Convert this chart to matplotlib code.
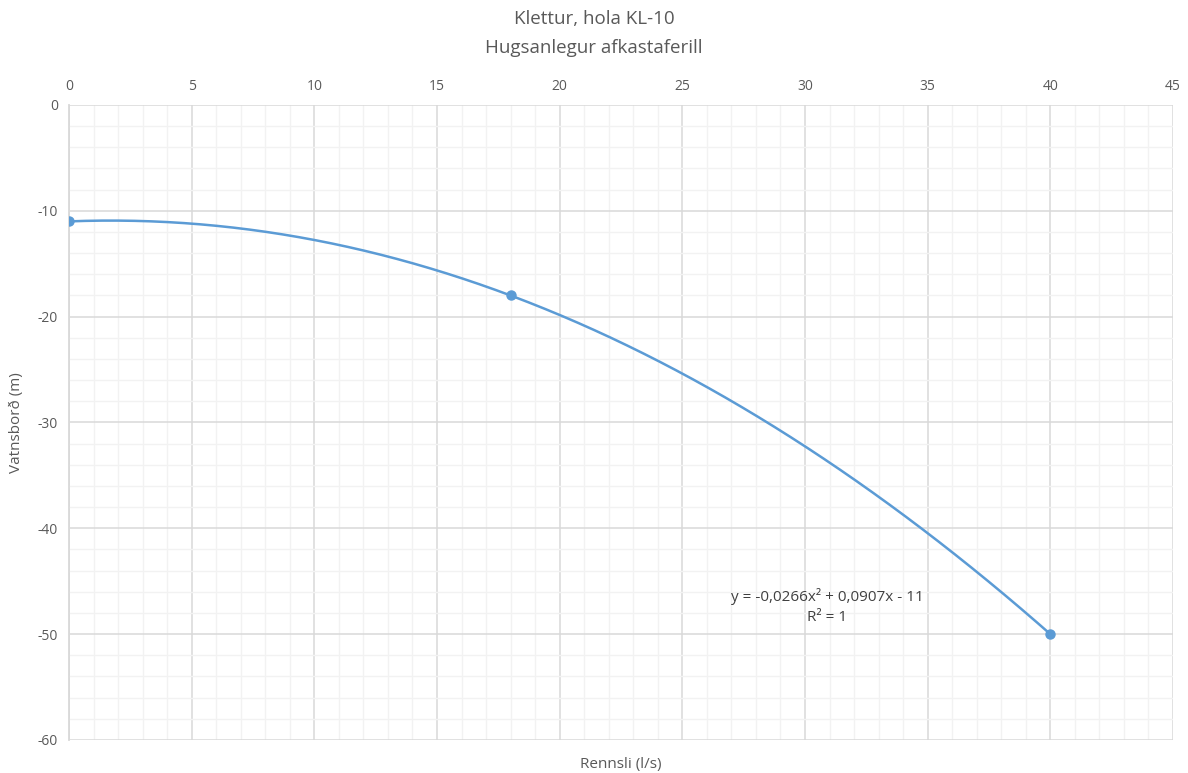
import numpy as np
import matplotlib.pyplot as plt
from matplotlib.ticker import MultipleLocator

plt.rcParams['font.family'] = ['Open Sans', 'DejaVu Sans']
plt.rcParams['axes.unicode_minus'] = False

rennsli = [0, 18, 40]
vatnsbord = [-11, -18, -50]
title_lines = ["Klettur, hola KL-10", "Hugsanlegur afkastaferill"]

blue = '#5B9BD5'
txt = '#595959'

fig = plt.figure(figsize=(11.88, 7.73), dpi=100)
ax = fig.add_axes([0.0581, 0.0427, 0.9293, 0.8215])

# quadratic trendline through the points
coef = np.polyfit(rennsli, vatnsbord, 2)
xs = np.linspace(min(rennsli), max(rennsli), 300)
ax.plot(xs, np.polyval(coef, xs), color=blue, lw=1.8, zorder=3)
ax.plot(rennsli, vatnsbord, 'o', color=blue, ms=6.5, zorder=4)

ax.set_xlim(0, 45)
ax.set_ylim(-60, 0)
ax.xaxis.set_major_locator(MultipleLocator(5))
ax.xaxis.set_minor_locator(MultipleLocator(1))
ax.yaxis.set_major_locator(MultipleLocator(10))
ax.yaxis.set_minor_locator(MultipleLocator(2))
ax.xaxis.tick_top()
ax.grid(which='major', color='#D9D9D9', lw=1.1, zorder=0)
ax.grid(which='minor', color='#F2F2F2', lw=1.0, zorder=0)
ax.set_axisbelow(True)
ax.tick_params(which='both', length=0, labelsize=10, colors=txt, pad=8)
for s in ['top', 'right', 'bottom']:
    ax.spines[s].set_visible(False)
ax.spines['left'].set_color('#D9D9D9')
ax.spines['left'].set_linewidth(1.3)

ax.set_xlabel("Rennsli (l/s)", fontsize=11, color=txt, labelpad=12)
ax.set_ylabel("Vatnsborð (m)", fontsize=11, color=txt, labelpad=10)
fig.text(0.5, 0.987, "\n".join(title_lines), ha='center', va='top',
         fontsize=13.5, color=txt, linespacing=1.75)

a, b, c = coef
eq = "y = {:.4f}x² + {:.4f}x - {:.0f}".format(a, b, -c).replace('.', ',')
ax.text(30.9, -47.4, eq + "\nR² = 1", ha='center', va='center',
        fontsize=11, color='#404040', linespacing=1.5)

fig.savefig('out.png', dpi=100)
